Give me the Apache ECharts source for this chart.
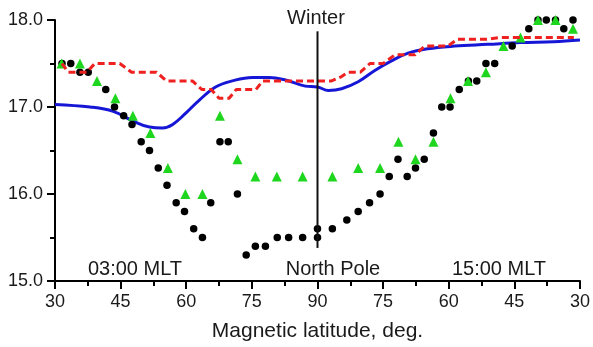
<!DOCTYPE html>
<html>
<head>
<meta charset="utf-8">
<script src="https://cdn.jsdelivr.net/npm/echarts@6/dist/echarts.min.js"></script>
<style>
  html, body { margin: 0; padding: 0; background: #fff; }
  #chart { width: 593px; height: 347px; }
</style>
</head>
<body>
<div id="chart"></div>
<script>
// x is the distance along the pass: 0 = 30 deg (03:00 MLT), 60 = pole, 120 = 30 deg (15:00 MLT)
const xTicks = [30, 45, 60, 75, 90, 75, 60, 45, 30]
const yTicks = [15.0, 16.0, 17.0, 18.0]

const blackDots = [
  [1.6, 17.5], [3.6, 17.5], [5.7, 17.4], [7.6, 17.4], [11.6, 17.2], [13.6, 17.0],
  [15.7, 16.9], [17.6, 16.8], [19.7, 16.6], [21.6, 16.5], [23.6, 16.3], [25.6, 16.1],
  [27.7, 15.9], [29.6, 15.8], [31.7, 15.6], [33.7, 15.5], [35.6, 15.9], [37.7, 16.6],
  [39.6, 16.6], [41.7, 16.0], [43.7, 15.3], [45.8, 15.4], [48.1, 15.4], [50.8, 15.5],
  [53.4, 15.5], [56.6, 15.5], [60, 15.5], [60, 15.6], [63.4, 15.6], [66.7, 15.7],
  [69.3, 15.8], [71.9, 15.9], [74.3, 16.0], [76.4, 16.2], [78.4, 16.4], [80.5, 16.2],
  [82.4, 16.3], [84.4, 16.4], [86.5, 16.7], [88.4, 17.0], [90.3, 17.0], [92.4, 17.2],
  [94.5, 17.3], [96.4, 17.3], [98.5, 17.5], [100.5, 17.5], [104.5, 17.7], [108.3, 17.9],
  [110.4, 18.0], [112.3, 18.0], [114.4, 18.0], [116.3, 17.9], [118.4, 18.0]
]

const greenTriangles = [
  [1.5, 17.5], [5.7, 17.5], [9.6, 17.3], [13.8, 17.1], [17.8, 16.9], [21.8, 16.7],
  [25.8, 16.3], [29.8, 16.0], [33.7, 16.0], [37.7, 16.9], [41.7, 16.4], [45.8, 16.2],
  [50.7, 16.2], [56.6, 16.2], [63.4, 16.2], [69.3, 16.3], [74.3, 16.3], [78.5, 16.6],
  [82.4, 16.4], [86.5, 16.6], [90.4, 17.1], [94.4, 17.3], [98.5, 17.4], [102.5, 17.7],
  [106.4, 17.8], [110.4, 18.0], [114.4, 18.0], [118.4, 17.9]
]

const blueLine = [
  [0, 17.03], [8, 17.0], [13.3, 16.95], [17.8, 16.84], [21.6, 16.77], [24.6, 16.76],
  [26.9, 16.8], [29.9, 16.93], [33, 17.08], [36.7, 17.23], [40.5, 17.3], [45.1, 17.34],
  [48.9, 17.34], [52.7, 17.31], [57.2, 17.24], [60, 17.23], [62.5, 17.19], [65.5, 17.21],
  [69.3, 17.29], [73.1, 17.42], [76.9, 17.53], [80.7, 17.62], [85.2, 17.67], [91.3, 17.7],
  [98.9, 17.72], [106.4, 17.74], [114, 17.75], [120, 17.77]
]

const redLine = [
  [1.6, 17.5], [3, 17.4], [7.3, 17.4], [9.1, 17.5], [14.8, 17.5], [17.5, 17.4],
  [23.2, 17.4], [25.5, 17.3], [31.4, 17.3], [33.6, 17.2], [35.7, 17.2], [37.5, 17.1],
  [39.8, 17.1], [41.4, 17.2], [45.9, 17.2], [47.5, 17.3], [63.2, 17.3], [65.5, 17.35],
  [67, 17.4], [69.8, 17.4], [72, 17.5], [75, 17.5], [77.7, 17.6], [82.3, 17.6],
  [84.5, 17.7], [89.8, 17.7], [92, 17.78], [98.9, 17.78], [101.8, 17.8], [118.6, 17.8]
]

const poleLine = [[60, 17.87], [60, 15.38]]

const chart = echarts.init(document.getElementById('chart'))
const txt = { fontFamily: 'Liberation Sans, Arial, sans-serif', color: '#1a1a1a' }
const note = { fontFamily: txt.fontFamily, fill: '#1a1a1a', fontSize: 20, align: 'center', verticalAlign: 'middle' }

chart.setOption({
  animation: false,
  grid: { left: 55, right: 10, top: 20, bottom: 61 },
  xAxis: {
    type: 'value', min: 0, max: 120, interval: 15,
    axisLine: { lineStyle: { color: '#000', width: 2 } },
    axisTick: { length: 8, lineStyle: { color: '#000', width: 2 } },
    minorTick: { show: true, splitNumber: 2, length: 5, lineStyle: { color: '#000', width: 2 } },
    splitLine: { show: false },
    axisLabel: {
      ...txt, fontSize: 18, margin: 12,
      formatter: v => xTicks[Math.round(v / 15)]
    },
    name: 'Magnetic latitude, deg.', nameLocation: 'middle', nameGap: 40,
    nameTextStyle: { ...txt, fontSize: 21 }
  },
  yAxis: {
    type: 'value', min: 15, max: 18, interval: 1,
    axisLine: { show: true, lineStyle: { color: '#000', width: 2 } },
    axisTick: { show: true, length: 8, lineStyle: { color: '#000', width: 2 } },
    minorTick: { show: true, splitNumber: 2, length: 5, lineStyle: { color: '#000', width: 2 } },
    splitLine: { show: false },
    axisLabel: { ...txt, fontSize: 18, margin: 12, formatter: v => yTicks.includes(v) ? v.toFixed(1) : '' }
  },
  series: [
    {
      name: 'blue', type: 'line', data: blueLine, smooth: 0.4, showSymbol: false,
      lineStyle: { color: '#1616d6', width: 3 }, z: 2
    },
    {
      name: 'black', type: 'scatter', data: blackDots, symbol: 'circle', symbolSize: 7.5,
      itemStyle: { color: '#000', opacity: 1 }, z: 3
    },
    {
      name: 'green', type: 'scatter', data: greenTriangles, symbol: 'triangle', symbolSize: 10,
      itemStyle: { color: '#1fd61f', opacity: 1 }, z: 4
    },
    {
      name: 'red', type: 'line', data: redLine, showSymbol: false,
      lineStyle: { color: '#ee2020', width: 3, type: [7, 4] }, z: 5
    },
    {
      name: 'pole', type: 'line', data: poleLine, showSymbol: false,
      lineStyle: { color: '#111', width: 2 }, z: 6
    }
  ],
  graphic: [
    { type: 'text', style: { text: 'Winter', x: 316, y: 18, ...note } },
    { type: 'text', style: { text: '03:00 MLT', x: 135, y: 269, ...note } },
    { type: 'text', style: { text: 'North Pole', x: 333, y: 269, ...note } },
    { type: 'text', style: { text: '15:00 MLT', x: 499, y: 269, ...note } }
  ]
})
</script>
</body>
</html>
